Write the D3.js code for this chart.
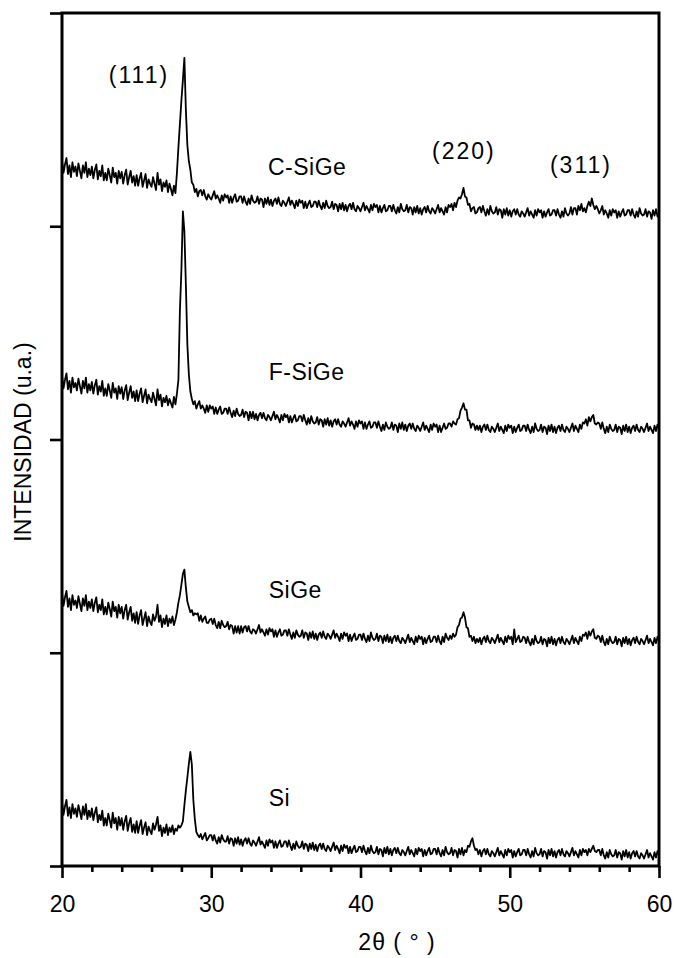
<!DOCTYPE html>
<html>
<head>
<meta charset="utf-8">
<script src="https://cdn.jsdelivr.net/npm/d3@7"></script>
<style>
  html, body { margin: 0; padding: 0; background: #ffffff; }
  svg { display: block; }
  text { font-family: "Liberation Sans", Arial, sans-serif; fill: #000; }
</style>
</head>
<body>
<svg id="chart" width="678" height="958"></svg>
<script>
// ---- DATA (2θ from 20 to 60 in steps of 0.1°, intensities in a.u., as plotted with offsets) ----
const thetaStart = 20, thetaStep = 0.1;
const xTickValues = [20, 30, 40, 50, 60];
const xTickLabels = ["20", "30", "40", "50", "60"];
const yTickValues = [0, 200, 400, 600, 800];
const seriesNames = ["C-SiGe", "F-SiGe", "SiGe", "Si"];
const peakLabels = ["(111)", "(220)", "(311)"];

const cSiGe = [
661,650,658,664,649,657,646,660,651,656,
647,659,652,645,657,650,660,646,654,648,
656,645,653,658,644,652,647,657,643,650,
643,654,648,641,655,646,650,640,652,645,
651,640,648,653,639,646,652,641,647,638,
648,638,645,650,637,643,649,636,644,640,
637,646,640,634,650,639,644,633,641,637,
643,632,640,635,629,638,631,650,674,696,
718,737,758,709,676,661,653,641,639,632,
635,628,633,634,629,634,628,625,630,627,
625,629,633,626,629,626,622,629,624,630,
627,629,622,628,622,627,630,623,624,628,
628,622,628,623,620,626,621,629,624,622,
623,628,621,626,625,618,626,621,627,620,
625,619,624,626,621,627,621,619,624,622,
619,623,627,620,624,621,617,624,619,625,
622,624,617,623,617,621,624,618,619,623,
623,618,624,619,616,622,617,624,619,617,
618,623,616,621,620,614,621,616,622,615,
620,614,619,621,616,622,616,614,619,617,
614,618,622,615,619,616,613,620,615,621,
618,620,613,619,613,617,620,614,615,619,
619,614,620,615,612,618,613,621,616,614,
615,620,613,618,617,611,618,613,619,612,
617,611,616,618,613,619,614,612,617,615,
612,616,620,613,617,614,611,618,613,620,
618,621,615,622,618,624,627,626,630,636,
628,627,620,621,614,617,618,612,613,617,
618,613,619,614,610,616,611,619,614,612,
613,618,611,616,615,608,616,611,617,610,
615,609,614,616,611,616,611,609,614,612,
609,613,617,610,614,611,608,615,610,616,
613,615,608,614,609,613,616,610,611,615,
615,610,616,611,608,614,609,617,612,610,
612,618,611,617,617,611,619,615,621,614,
617,613,619,623,619,626,620,616,619,616,
612,615,619,611,615,612,608,615,610,616,
613,615,608,614,609,613,616,610,611,615,
615,610,616,611,608,614,609,617,612,610,
611,616,609,614,613,607,615,610,616,609,
612];

const fSiGe = [
460,448,456,462,447,455,444,458,449,453,
446,457,450,443,455,448,458,444,452,446,
454,443,451,456,442,450,445,455,441,448,
441,452,446,439,453,444,448,438,450,443,
449,438,446,451,437,444,450,439,445,436,
446,436,443,448,435,441,447,434,442,438,
435,444,438,432,447,437,442,431,439,435,
441,432,438,434,430,440,433,443,456,521,
559,614,595,545,489,461,445,438,433,436,
429,433,436,429,432,429,425,432,426,432,
429,431,424,430,424,428,431,424,425,429,
429,424,430,425,421,427,422,429,424,422,
423,428,421,426,425,418,426,420,426,419,
424,418,423,425,420,425,420,418,423,421,
418,422,426,419,423,420,416,423,418,424,
421,423,416,422,416,420,423,417,418,422,
422,417,423,418,414,420,415,422,417,415,
416,421,414,419,418,412,419,414,420,413,
418,412,417,419,414,419,414,412,417,415,
412,416,420,413,417,414,410,417,412,418,
415,417,410,416,410,414,417,411,412,416,
416,411,417,412,408,414,409,416,412,410,
411,416,409,414,413,407,415,410,416,409,
414,408,413,415,410,415,410,408,413,411,
408,412,416,409,413,410,407,414,409,415,
412,414,407,413,407,411,415,410,411,415,
415,412,417,415,414,419,420,427,430,434,
428,428,418,418,411,415,414,409,413,409,
413,407,412,414,409,414,409,407,412,410,
407,411,415,408,412,409,406,413,408,414,
411,413,406,412,407,411,414,408,409,413,
413,408,414,409,406,412,407,415,410,408,
409,414,407,412,411,405,413,408,414,407,
412,406,411,413,408,414,409,407,412,410,
407,411,415,408,413,410,407,414,410,416,
415,419,413,421,417,421,423,415,414,416,
415,410,416,410,406,412,407,414,410,408,
409,414,407,412,411,405,413,408,414,407,
412,406,411,413,408,414,409,407,412,410,
407,411,415,408,412,409,406,413,408,414,
410];

const siGe = [
256,244,252,258,243,251,240,254,245,249,
242,253,246,239,251,244,254,240,248,242,
250,239,247,252,238,245,240,250,236,243,
236,247,241,234,248,239,243,233,245,237,
243,232,240,245,231,238,243,230,237,228,
238,227,235,240,226,232,238,225,234,229,
226,236,230,234,245,229,235,224,232,227,
235,225,232,228,234,226,231,238,247,254,
264,274,278,261,248,243,238,240,235,237,
236,237,230,235,229,232,234,228,228,231,
232,227,232,226,223,229,223,230,226,224,
225,229,222,226,225,218,225,219,225,218,
225,219,224,225,220,225,220,218,222,221,
218,222,226,219,222,219,216,222,217,223,
220,222,215,221,215,219,222,216,217,221,
221,216,222,217,213,219,214,221,217,215,
216,221,214,219,218,212,219,214,220,213,
218,212,217,219,214,220,215,213,218,216,
213,217,221,214,218,215,211,218,213,219,
216,218,211,217,211,215,218,212,213,217,
217,212,218,213,210,216,211,219,214,212,
213,218,211,216,215,209,216,211,217,210,
215,209,214,216,211,216,211,209,214,212,
209,213,217,210,214,211,208,215,210,216,
213,215,208,214,209,213,216,210,211,215,
215,210,216,211,208,215,210,218,214,212,
216,213,218,215,217,224,226,232,233,238,
233,224,223,215,216,211,215,209,213,210,
214,208,213,215,210,216,211,209,214,212,
209,213,217,210,214,211,208,215,210,216,
213,215,208,222,210,213,216,210,211,215,
214,209,215,210,207,213,208,216,211,209,
210,215,208,213,212,206,214,209,215,208,
213,207,212,214,209,215,210,208,213,211,
208,212,216,209,214,211,208,215,211,217,
216,219,213,220,216,220,222,214,213,216,
215,210,216,210,207,213,208,215,211,209,
210,215,208,213,212,206,214,209,215,208,
213,207,212,214,209,215,210,208,213,211,
208,212,216,209,213,210,207,214,209,215,
211];

const si = [
60,48,56,62,47,55,45,58,49,54,
46,57,51,44,56,48,58,44,52,46,
54,43,50,55,41,48,43,52,38,45,
38,49,43,36,50,40,45,34,46,38,
45,34,42,47,33,40,45,32,39,31,
42,31,38,43,30,36,41,29,37,33,
30,40,34,39,46,33,38,28,36,31,
39,29,36,32,38,30,35,33,38,36,
38,42,57,71,83,96,107,95,62,44,
32,29,27,30,25,28,31,24,26,29,
29,24,29,24,21,27,22,29,25,23,
23,28,21,26,25,19,26,21,27,20,
25,19,24,26,21,26,21,19,24,22,
19,23,27,20,23,20,17,24,19,25,
22,24,17,23,17,21,24,18,19,23,
23,18,24,19,15,21,16,23,19,17,
18,23,16,21,20,14,21,16,22,15,
20,14,19,21,16,21,16,14,19,17,
14,18,22,15,19,16,12,19,14,20,
17,19,12,18,12,16,19,13,14,18,
18,13,19,14,11,17,12,19,14,12,
13,18,11,16,15,9,17,12,18,11,
16,10,15,17,12,17,12,10,15,13,
10,14,18,11,15,12,9,16,11,17,
14,16,9,15,10,14,17,11,12,16,
16,11,17,12,9,15,10,18,13,11,
12,17,10,15,14,8,16,11,17,10,
15,13,19,18,23,26,19,15,16,11,
15,9,14,16,11,16,11,9,14,12,
9,13,17,10,14,11,8,15,10,16,
13,15,8,14,9,13,16,10,11,15,
15,10,16,11,8,14,9,17,12,10,
11,16,9,14,13,7,15,10,16,9,
14,8,13,15,10,16,11,9,14,12,
9,13,17,10,14,11,8,15,10,16,
13,15,10,16,13,16,19,14,13,15,
15,10,16,10,7,13,8,15,11,9,
10,15,8,13,12,6,14,9,15,8,
13,7,12,14,9,14,9,7,12,10,
7,11,15,8,12,9,6,13,8,14,
10];

const allSeries = [cSiGe, fSiGe, siGe, si];

// ---- CHART ----
const svg = d3.select("#chart");
const plotL = 62, plotR = 659, plotT = 13, plotB = 866;
const FONT = 23;

const x = d3.scaleLinear().domain([20, 60]).range([plotL, plotR]);
const y = d3.scaleLinear().domain([0, 800]).range([plotB, plotT]);

svg.append("defs").append("clipPath").attr("id", "plotClip")
  .append("rect").attr("x", plotL).attr("y", plotT)
  .attr("width", plotR - plotL).attr("height", plotB - plotT);

// curves
const line = d3.line()
  .x((d, i) => x(thetaStart + i * thetaStep))
  .y(d => y(d));

svg.append("g").attr("clip-path", "url(#plotClip)")
  .selectAll("path.curve").data(allSeries).join("path")
  .attr("class", "curve")
  .attr("fill", "none")
  .attr("stroke", "#000")
  .attr("stroke-width", 1.8)
  .attr("stroke-linejoin", "round")
  .attr("d", line);

// x axis: major ticks with labels
const xMajor = d3.axisBottom(x).tickValues(xTickValues)
  .tickFormat((d, i) => xTickLabels[i]).tickSize(12).tickPadding(18);
const gx = svg.append("g").attr("transform", `translate(0,${plotB})`).call(xMajor);
gx.select(".domain").remove();
gx.selectAll(".tick line").attr("stroke", "#000").attr("stroke-width", 2.6);
gx.selectAll(".tick text").attr("font-size", FONT)
  .attr("font-family", '"Liberation Sans", Arial, sans-serif').attr("fill", "#000");

// x axis: minor ticks every 2°
const minorVals = d3.range(22, 60, 2).filter(v => v % 10 !== 0);
const xMinor = d3.axisBottom(x).tickValues(minorVals).tickFormat("").tickSize(6);
const gxm = svg.append("g").attr("transform", `translate(0,${plotB})`).call(xMinor);
gxm.select(".domain").remove();
gxm.selectAll(".tick line").attr("stroke", "#000").attr("stroke-width", 2.6);

// y axis ticks, no labels
const yAxis = d3.axisLeft(y).tickValues(yTickValues).tickFormat("").tickSize(12);
const gy = svg.append("g").attr("transform", `translate(${plotL},0)`).call(yAxis);
gy.select(".domain").remove();
gy.selectAll(".tick line").attr("stroke", "#000").attr("stroke-width", 2.6);

// frame
svg.append("rect")
  .attr("x", plotL).attr("y", plotT)
  .attr("width", plotR - plotL).attr("height", plotB - plotT)
  .attr("fill", "none").attr("stroke", "#000").attr("stroke-width", 3);

// series labels
const seriesLabelPos = [[33.8, 648], [33.85, 456], [33.85, 251], [33.85, 56]];
svg.append("g").selectAll("text").data(seriesNames).join("text")
  .attr("x", (d, i) => x(seriesLabelPos[i][0]))
  .attr("y", (d, i) => y(seriesLabelPos[i][1]))
  .attr("font-size", FONT)
  .attr("letter-spacing", "0.5px")
  .attr("text-anchor", "start")
  .text(d => d);

// peak labels
const peakLabelPos = [[25.16, 734], [46.93, 663], [54.77, 650]];
svg.append("g").selectAll("text").data(peakLabels).join("text")
  .attr("x", (d, i) => x(peakLabelPos[i][0]))
  .attr("y", (d, i) => y(peakLabelPos[i][1]))
  .attr("font-size", FONT)
  .attr("letter-spacing", "2px")
  .attr("text-anchor", "middle")
  .text(d => d);

// axis titles
svg.append("text")
  .attr("x", 397).attr("y", 950)
  .attr("font-size", FONT).attr("text-anchor", "middle")
  .attr("letter-spacing", "1px")
  .text("2θ ( ° )");

svg.append("text")
  .attr("transform", "translate(31,442) rotate(-90)")
  .attr("font-size", FONT).attr("text-anchor", "middle")
  .text("INTENSIDAD (u.a.)");
</script>
</body>
</html>
